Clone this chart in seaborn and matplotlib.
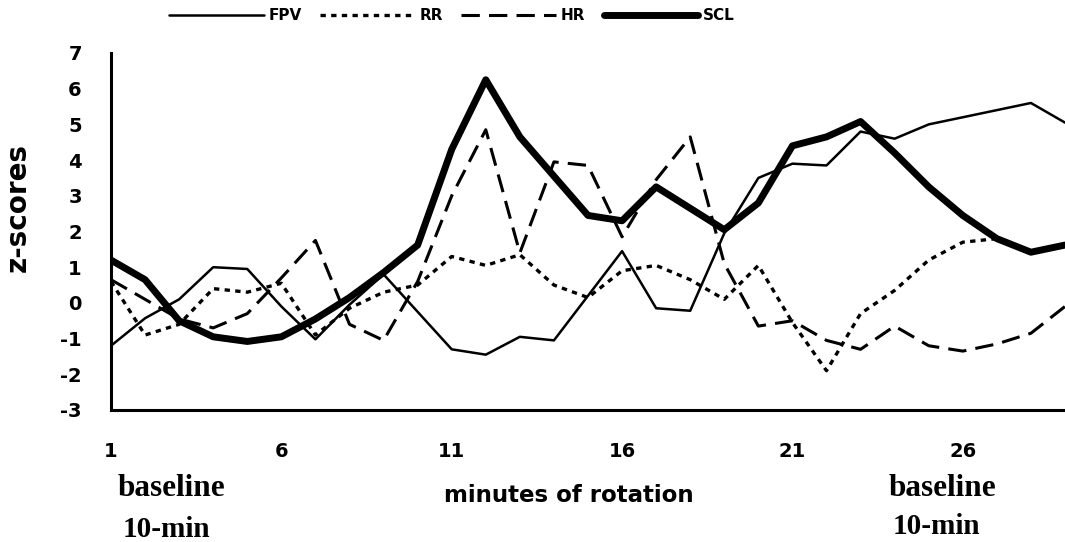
import matplotlib
matplotlib.use("Agg")
import matplotlib.pyplot as plt
import seaborn as sns

# minutes (1-10 baseline, 11-20 rotation, 21-29 baseline)
minutos = list(range(1, 30))

fpv = [-1.2, -0.43, 0.1, 1.0, 0.95, -0.1, -1.02, -0.05, 0.8, -0.25,
       -1.3, -1.45, -0.95, -1.05, 0.2, 1.45, -0.15, -0.22, 1.95, 3.5,
       3.9, 3.85, 4.8, 4.6, 5.0, 5.2, 5.4, 5.6, 5.05]
rr = [0.6, -0.9, -0.6, 0.4, 0.3, 0.55, -0.9, -0.15, 0.3, 0.5,
      1.3, 1.05, 1.35, 0.5, 0.15, 0.9, 1.05, 0.65, 0.1, 1.05,
      -0.55, -1.9, -0.3, 0.35, 1.2, 1.7, 1.8, 1.45, 1.65]
hr = [0.65, 0.1, -0.45, -0.7, -0.3, 0.7, 1.75, -0.6, -1.05, 0.6,
      3.0, 4.85, 1.4, 3.95, 3.85, 1.85, 3.45, 4.65, 1.1, -0.65,
      -0.5, -1.05, -1.3, -0.65, -1.2, -1.35, -1.15, -0.85, -0.1]
scl = [1.2, 0.65, -0.5, -0.95, -1.08, -0.95, -0.45, 0.15, 0.85, 1.62,
       4.3, 6.25, 4.65, 3.55, 2.45, 2.3, 3.25, 2.65, 2.05, 2.8,
       4.4, 4.65, 5.08, 4.2, 3.25, 2.45, 1.8, 1.42, 1.62]

xticks = [1, 6, 11, 16, 21, 26]
yticks = list(range(-3, 8))

sns.set_style("white")
plt.rcParams["font.family"] = ["DejaVu Sans"]
plt.rcParams["axes.unicode_minus"] = False
plt.rcParams["text.color"] = "black"

fig = plt.figure(figsize=(10.65, 5.42), dpi=100)
ax = fig.add_axes([111 / 1065, 1 - 410 / 542, 1 - 111 / 1065, (410 - 53) / 542])

# --------------------------------------------------
# series
# --------------------------------------------------
sns.lineplot(x=minutos, y=fpv, ax=ax, color="black", lw=1.8, label="FPV")
sns.lineplot(x=minutos, y=rr, ax=ax, color="black", lw=2.4,
             linestyle=(0, (1.6, 1.6)), label="RR")
sns.lineplot(x=minutos, y=hr, ax=ax, color="black", lw=2.2,
             linestyle=(0, (6, 3)), label="HR")
sns.lineplot(x=minutos, y=scl, ax=ax, color="black", lw=5, label="SCL")

ax.set_xlim(1, 29)
ax.set_ylim(-3, 7)
ax.set_xticks(xticks)
ax.set_yticks(yticks)
ax.set_xlabel("")
ax.set_ylabel("")

for lado in ["top", "right"]:
    ax.spines[lado].set_visible(False)
for lado in ["left", "bottom"]:
    ax.spines[lado].set_color("black")
    ax.spines[lado].set_linewidth(2.2)

ax.tick_params(axis="both", direction="inout", length=12, width=2,
               colors="black", labelsize=14)
ax.tick_params(axis="x", pad=17)
ax.tick_params(axis="y", pad=15)
for lbl in ax.get_xticklabels() + ax.get_yticklabels():
    lbl.set_fontweight("bold")

# --------------------------------------------------
# legend
# --------------------------------------------------
handles, labels = ax.get_legend_handles_labels()
ax.get_legend().remove()
fig.legend(handles, labels, loc="center", bbox_to_anchor=(452 / 1065, 1 - 16 / 542),
           ncol=4, frameon=False, handlelength=6.2, handletextpad=0.3,
           columnspacing=1.2, prop={"weight": "bold", "size": 11})

# --------------------------------------------------
# texts
# --------------------------------------------------
fig.text(18 / 1065, 1 - 207 / 542, "z-scores", rotation=90, ha="center",
         va="center", fontsize=20, fontweight="bold")
fig.text(569 / 1065, 1 - 502 / 542, "minutes of rotation", ha="center",
         va="baseline", fontsize=16.5, fontweight="bold")

serif = ["Liberation Serif", "DejaVu Serif"]
fig.text(171 / 1065, 1 - 496 / 542, "baseline", ha="center", va="baseline",
         fontsize=22.5, fontweight="bold", family=serif)
fig.text(166 / 1065, 1 - 537 / 542, "10-min", ha="center", va="baseline",
         fontsize=21, fontweight="bold", family=serif)
fig.text(942 / 1065, 1 - 496 / 542, "baseline", ha="center", va="baseline",
         fontsize=22.5, fontweight="bold", family=serif)
fig.text(936 / 1065, 1 - 534 / 542, "10-min", ha="center", va="baseline",
         fontsize=21, fontweight="bold", family=serif)

fig.savefig("out.png", dpi=100)
plt.close(fig)
